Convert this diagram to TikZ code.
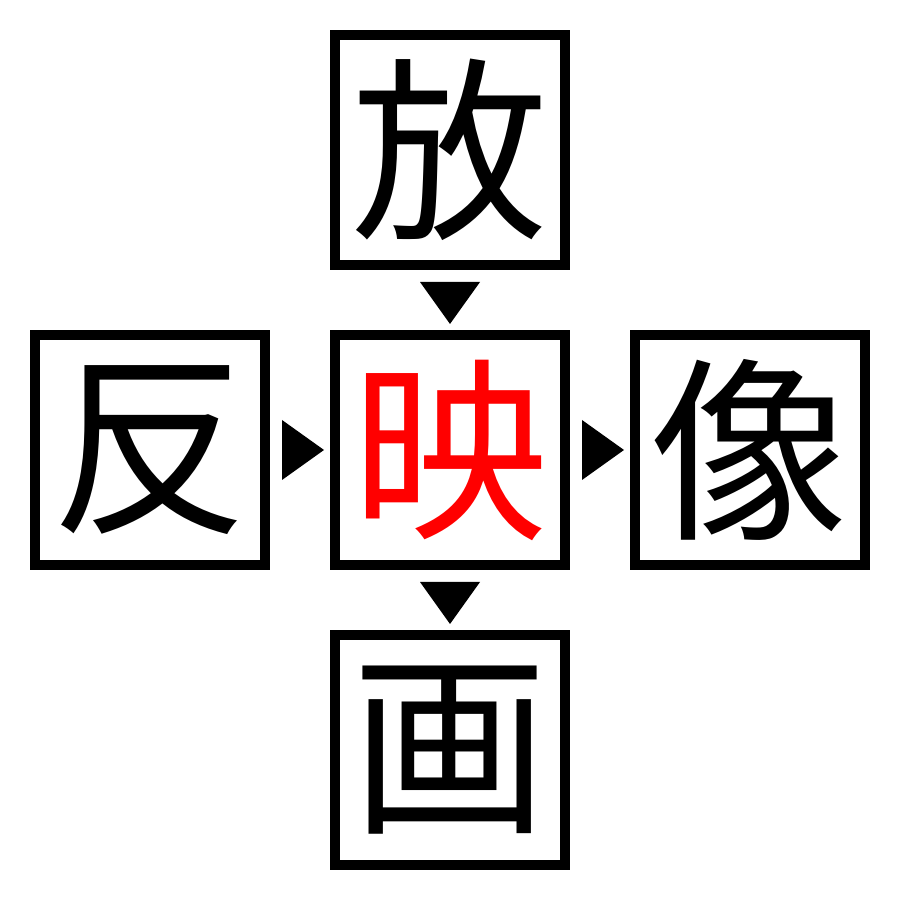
\documentclass[tikz,border=0pt]{standalone}
\usepackage{fontspec}
\newfontfamily\cjk{Noto Sans CJK JP}
\usetikzlibrary{calc}
\definecolor{kred}{RGB}{255,0,0}
\begin{document}
\begin{tikzpicture}[x=1cm,y=1cm,
  kbox/.style={draw, line width=1mm, minimum size=2.3cm, inner sep=0pt,
    font=\cjk\fontsize{56}{56}\selectfont},
  tri/.style={fill=black}]
\useasboundingbox (0,0) rectangle (9,9);
\node[kbox] (hou) at (4.5,7.5) {放};
\node[kbox, text=kred] (ei) at (4.5,4.5) {映};
\node[kbox] (han) at (1.5,4.5) {反};
\node[kbox] (zou) at (7.5,4.5) {像};
\node[kbox] (ga) at (4.5,1.5) {画};
% down triangles
\fill[tri] ($(hou.south)+(-0.3,-0.12)$) -- ($(hou.south)+(0.3,-0.12)$) -- ($(hou.south)+(0,-0.54)$) -- cycle;
\fill[tri] ($(ei.south)+(-0.3,-0.12)$) -- ($(ei.south)+(0.3,-0.12)$) -- ($(ei.south)+(0,-0.54)$) -- cycle;
% right triangles
\fill[tri] ($(han.east)+(0.12,0.3)$) -- ($(han.east)+(0.12,-0.3)$) -- ($(han.east)+(0.54,0)$) -- cycle;
\fill[tri] ($(ei.east)+(0.12,0.3)$) -- ($(ei.east)+(0.12,-0.3)$) -- ($(ei.east)+(0.54,0)$) -- cycle;
\end{tikzpicture}
\end{document}
